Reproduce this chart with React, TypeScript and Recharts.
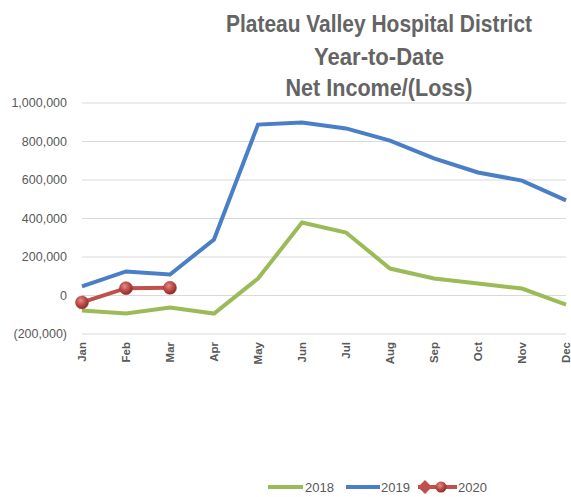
import React from "react";
import { LineChart, Line, XAxis, YAxis, CartesianGrid } from "recharts";

const months = ["Jan", "Feb", "Mar", "Apr", "May", "Jun", "Jul", "Aug", "Sep", "Oct", "Nov", "Dec"];
const values2018 = [-78000, -94000, -62000, -94000, 88000, 379000, 327000, 140000, 88000, 62000, 36000, -47000];
const values2019 = [47000, 125000, 109000, 291000, 888000, 899000, 868000, 805000, 712000, 639000, 597000, 494000];
const values2020: (number | null)[] = [-36000, 38000, 40000, null, null, null, null, null, null, null, null, null];
const yTicks = [-200000, 0, 200000, 400000, 600000, 800000, 1000000];
const titleLines = ["Plateau Valley Hospital District", "Year-to-Date", "Net Income/(Loss)"];

const data = months.map((m, i) => ({
  month: m,
  y2018: values2018[i],
  y2019: values2019[i],
  y2020: values2020[i],
}));

const GREEN = "#9BBB59";
const BLUE = "#4A7EC6";
const RED = "#C0504D";
const TEXT = "#595959";
const FONT = "'Liberation Sans', Arial, sans-serif";

const fmt = (v: number) => {
  if (v === 0) return "0";
  const s = Math.abs(v).toLocaleString("en-US");
  return v < 0 ? `(${s})` : s;
};

const YTick = (props: any) => {
  const { y, payload } = props;
  return (
    <text x={67} y={y} dy="0.35em" textAnchor="end" fill={TEXT} fontSize={12.5} fontFamily={FONT}>
      {fmt(payload.value)}
    </text>
  );
};

const XTick = (props: any) => {
  const { x, payload } = props;
  return (
    <g transform={`translate(${x + 4},${342}) rotate(-90)`}>
      <text x={0} y={0} textAnchor="end" fill={TEXT} fontSize={11.5} fontWeight="bold" fontFamily={FONT}>
        {payload.value}
      </text>
    </g>
  );
};

const RedDot = (props: any) => {
  const { cx, cy, value } = props;
  if (value == null || cx == null || cy == null) return null;
  return <circle cx={cx} cy={cy} r={6.5} fill="url(#redBall)" stroke="#A33B38" strokeWidth={0.5} />;
};

export default function App() {
  return (
    <div style={{ position: "absolute", left: 0, top: 0, width: 571, height: 497, background: "#fff" }}>
      <svg width={571} height={110} style={{ position: "absolute", left: 0, top: 0 }}>
        {[
          { y: 32, w: 306 },
          { y: 65, w: 130 },
          { y: 96, w: 187 },
        ].map((l, i) => (
          <text
            key={i}
            x={379}
            y={l.y}
            textAnchor="middle"
            fill="#646464"
            fontSize={23}
            fontWeight="bold"
            fontFamily={FONT}
            textLength={l.w}
            lengthAdjust="spacingAndGlyphs"
          >
            {titleLines[i]}
          </text>
        ))}
      </svg>
      <div style={{ position: "absolute", left: 0, top: 0 }}>
        <LineChart width={571} height={497} data={data} margin={{ top: 103, right: 5, left: 0, bottom: 0 }}>
          <defs>
            <radialGradient id="redBall" cx="40%" cy="35%" r="65%">
              <stop offset="0%" stopColor="#E88A87" />
              <stop offset="50%" stopColor="#C0504D" />
              <stop offset="100%" stopColor="#8E2A27" />
            </radialGradient>
          </defs>
          <CartesianGrid horizontal vertical={false} stroke="#D9D9D9" strokeWidth={1} />
          <XAxis
            dataKey="month"
            height={163}
            axisLine={false}
            tickLine={false}
            interval={0}
            tick={<XTick />}
          />
          <YAxis
            width={82}
            domain={[-200000, 1000000]}
            ticks={yTicks}
            axisLine={false}
            tickLine={false}
            tick={<YTick />}
          />
          <Line dataKey="y2018" stroke={GREEN} strokeWidth={4} dot={false} isAnimationActive={false} />
          <Line dataKey="y2019" stroke={BLUE} strokeWidth={4} dot={false} isAnimationActive={false} />
          <Line
            dataKey="y2020"
            stroke={RED}
            strokeWidth={4}
            dot={<RedDot />}
            activeDot={false}
            connectNulls={false}
            isAnimationActive={false}
          />
        </LineChart>
      </div>
      <svg width={571} height={30} style={{ position: "absolute", left: 0, top: 474 }}>
        <g fontFamily={FONT} fontSize={13} fill={TEXT}>
          <line x1={268} y1={13} x2={303} y2={13} stroke={GREEN} strokeWidth={4} />
          <text x={305} y={17.5}>2018</text>
          <line x1={346} y1={13} x2={380} y2={13} stroke={BLUE} strokeWidth={4} />
          <text x={381} y={17.5}>2019</text>
          <line x1={418} y1={13} x2={457} y2={13} stroke={RED} strokeWidth={4} />
          <polygon points="418,13 425,6 432,13 425,20" fill={RED} />
          <circle cx={441} cy={13} r={5.5} fill="url(#redBallLegend)" />
          <defs>
            <radialGradient id="redBallLegend" cx="40%" cy="35%" r="65%">
              <stop offset="0%" stopColor="#E88A87" />
              <stop offset="50%" stopColor="#C0504D" />
              <stop offset="100%" stopColor="#8E2A27" />
            </radialGradient>
          </defs>
          <text x={458} y={17.5}>2020</text>
        </g>
      </svg>
    </div>
  );
}
